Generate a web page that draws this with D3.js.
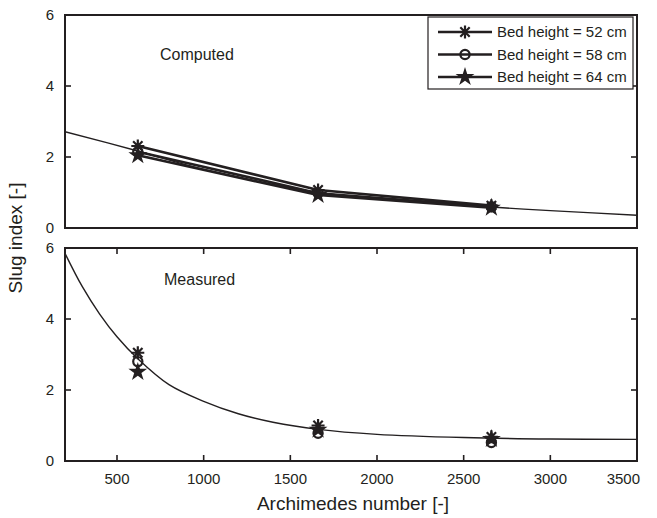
<!DOCTYPE html>
<html>
<head>
<meta charset="utf-8">
<script src="https://cdn.jsdelivr.net/npm/d3@7"></script>
<style>
  body { margin: 0; background: #fff; }
  text { font-family: "Liberation Sans", Arial, sans-serif; fill: #231f20; }
</style>
</head>
<body>
<svg id="chart" width="657" height="518"></svg>
<script>
// data
var archimedes = [620, 1660, 2660];
var bedHeights = ["Bed height = 52 cm", "Bed height = 58 cm", "Bed height = 64 cm"];
var markerTypes = ["asterisk", "circle", "star"];

var computed52 = [2.31, 1.07, 0.63];
var computed58 = [2.15, 0.98, 0.60];
var computed64 = [2.05, 0.93, 0.57];

var measured52 = [3.05, 1.00, 0.68];
var measured58 = [2.80, 0.78, 0.52];
var measured64 = [2.51, 0.88, 0.62];

// fitted curves
var fitTopX = [200, 620, 1000, 1660, 2000, 2660, 3000, 3500];
var fitTopY = [2.71, 2.17, 1.65, 1.00, 0.83, 0.59, 0.49, 0.36];
var fitBotX = [200, 300, 400, 500, 620, 800, 1000, 1200, 1400, 1660, 2000, 2500, 3000, 3500];
var fitBotY = [5.85, 4.91, 4.14, 3.50, 2.88, 2.15, 1.68, 1.33, 1.09, 0.89, 0.75, 0.66, 0.62, 0.61];

var xTicks = [500, 1000, 1500, 2000, 2500, 3000, 3500];
var yTicks = [0, 2, 4, 6];

// layout
var ink = "#231f20";
var left = 65, right = 637;
var x = d3.scaleLinear().domain([200, 3500]).range([left, right]);
var panels = [
  {name: "Computed", series: [computed52, computed58, computed64], fitX: fitTopX, fitY: fitTopY,
   y: d3.scaleLinear().domain([0, 6]).range([228, 15]), showX: false, lines: true, labelPos: [160, 60]},
  {name: "Measured", series: [measured52, measured58, measured64], fitX: fitBotX, fitY: fitBotY,
   y: d3.scaleLinear().domain([0, 6]).range([461, 248]), showX: true, lines: false, labelPos: [164, 285]}
];

var svg = d3.select("#chart");

function drawMarker(g, type, cx, cy) {
  if (type === "asterisk") {
    var r = 6.5, d = r * 0.72;
    var p = "M" + [cx, cy - r] + "L" + [cx, cy + r] +
            "M" + [cx - r, cy] + "L" + [cx + r, cy] +
            "M" + [cx - d, cy - d] + "L" + [cx + d, cy + d] +
            "M" + [cx - d, cy + d] + "L" + [cx + d, cy - d];
    g.append("path").attr("d", p).attr("stroke", ink).attr("stroke-width", 2.2).attr("fill", "none");
  } else if (type === "circle") {
    g.append("circle").attr("cx", cx).attr("cy", cy).attr("r", 4.6)
      .attr("fill", "none").attr("stroke", ink).attr("stroke-width", 2.2);
  } else {
    g.append("path").attr("d", d3.symbol(d3.symbolStar, 110)())
      .attr("transform", "translate(" + [cx, cy] + ")").attr("fill", ink);
  }
}

panels.forEach(function(p) {
  var g = svg.append("g");
  var y = p.y;
  var top = y.range()[1], bottom = y.range()[0];

  g.append("defs").append("clipPath").attr("id", "clip-" + p.name)
    .append("rect").attr("x", left).attr("y", top).attr("width", right - left).attr("height", bottom - top);

  // fitted curve
  var fit = p.fitX.map(function(v, i) { return [v, p.fitY[i]]; });
  g.append("path")
    .datum(fit)
    .attr("clip-path", "url(#clip-" + p.name + ")")
    .attr("fill", "none").attr("stroke", ink).attr("stroke-width", 1.4)
    .attr("d", d3.line().x(function(d) { return x(d[0]); }).y(function(d) { return y(d[1]); }).curve(d3.curveCatmullRom));

  // series
  p.series.forEach(function(vals, si) {
    if (p.lines) {
      g.append("path")
        .datum(vals)
        .attr("fill", "none").attr("stroke", ink).attr("stroke-width", 2.6)
        .attr("d", d3.line().x(function(d, i) { return x(archimedes[i]); }).y(function(d) { return y(d); }));
    }
    vals.forEach(function(v, i) {
      drawMarker(g, markerTypes[si], x(archimedes[i]), y(v));
    });
  });

  // axes box
  g.append("rect").attr("x", left).attr("y", top).attr("width", right - left).attr("height", bottom - top)
    .attr("fill", "none").attr("stroke", ink).attr("stroke-width", 2);

  // y ticks (inward, both sides)
  yTicks.forEach(function(t) {
    if (t > 0 && t < 6) {
      g.append("line").attr("x1", left).attr("x2", left + 6).attr("y1", y(t)).attr("y2", y(t))
        .attr("stroke", ink).attr("stroke-width", 1.6);
      g.append("line").attr("x1", right).attr("x2", right - 6).attr("y1", y(t)).attr("y2", y(t))
        .attr("stroke", ink).attr("stroke-width", 1.6);
    }
    g.append("text").attr("x", 54).attr("y", y(t)).attr("dy", "0.35em")
      .attr("text-anchor", "end").style("font-size", "15px").text(t);
  });

  if (p.showX) {
    xTicks.forEach(function(t) {
      if (t < 3500) {
        g.append("line").attr("x1", x(t)).attr("x2", x(t)).attr("y1", bottom).attr("y2", bottom - 6)
          .attr("stroke", ink).attr("stroke-width", 1.6);
        g.append("line").attr("x1", x(t)).attr("x2", x(t)).attr("y1", top).attr("y2", top + 6)
          .attr("stroke", ink).attr("stroke-width", 1.6);
      }
      g.append("text").attr("x", t === 3500 ? x(t) + 3 : x(t)).attr("y", bottom + 23)
        .attr("text-anchor", t === 3500 ? "end" : "middle").style("font-size", "15px").text(t);
    });
  }

  g.append("text").attr("x", p.labelPos[0]).attr("y", p.labelPos[1])
    .style("font-size", "16px").text(p.name);
});

// legend
var legend = svg.append("g");
legend.append("rect").attr("x", 428).attr("y", 17).attr("width", 205).attr("height", 72)
  .attr("fill", "#fff").attr("stroke", ink).attr("stroke-width", 1.2);
bedHeights.forEach(function(name, i) {
  var ly = 32 + i * 22.5;
  legend.append("line").attr("x1", 438).attr("x2", 492).attr("y1", ly).attr("y2", ly)
    .attr("stroke", ink).attr("stroke-width", 2.6);
  drawMarker(legend, markerTypes[i], 465, ly);
  legend.append("text").attr("x", 497).attr("y", ly).attr("dy", "0.35em")
    .style("font-size", "15px").text(name);
});

// axis titles
svg.append("text").attr("x", 353).attr("y", 510).attr("text-anchor", "middle")
  .style("font-size", "19px").text("Archimedes number [-]");
svg.append("text").attr("transform", "translate(22,238) rotate(-90)").attr("text-anchor", "middle")
  .style("font-size", "19px").text("Slug index [-]");
</script>
</body>
</html>
